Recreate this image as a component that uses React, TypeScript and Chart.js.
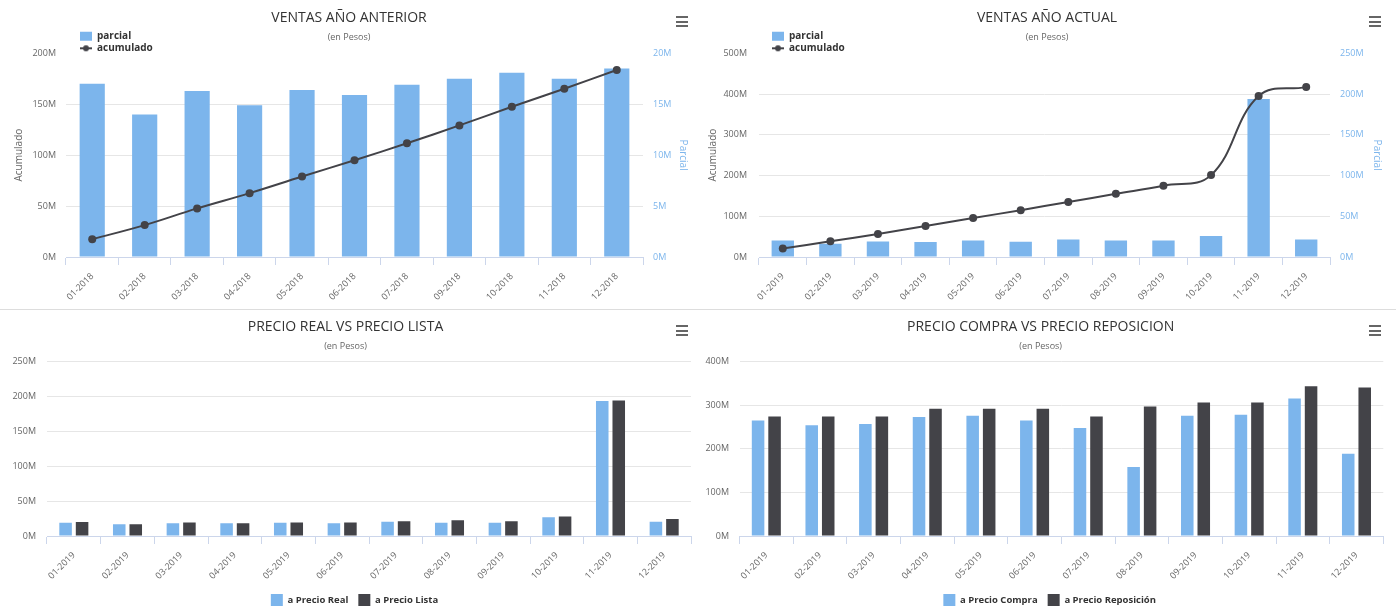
import React, { useEffect, useRef } from 'react';
import { Chart, registerables } from 'chart.js';

Chart.register(...registerables);

const FONT = '"Open Sans", "DejaVu Sans", sans-serif';
const BLUE = '#7cb5ec';
const DARK = '#434348';
const GRID = '#e6e6e6';
const AXIS = '#ccd6eb';
const TXT = '#666666';

Chart.defaults.font.family = FONT;

// ---------- data (values in millions of pesos) ----------
const mesesAnterior = ['01-2018', '02-2018', '03-2018', '04-2018', '05-2018', '06-2018', '07-2018', '09-2018', '10-2018', '11-2018', '12-2018'];
const parcialAnterior = [17.0, 14.0, 16.3, 14.9, 16.4, 15.9, 16.9, 17.5, 18.1, 17.5, 18.5];
const acumuladoAnterior = [17.5, 31.3, 47.7, 62.7, 79.0, 95.0, 111.7, 129.2, 147.5, 165.2, 183.6];
const ejeAcumAnterior = [0, 50, 100, 150, 200];
const ejeParcAnterior = [0, 5, 10, 15, 20];

const mesesActual = ['01-2019', '02-2019', '03-2019', '04-2019', '05-2019', '06-2019', '07-2019', '08-2019', '09-2019', '10-2019', '11-2019', '12-2019'];
const parcialActual = [20.3, 16.3, 19.1, 18.4, 20.3, 18.8, 21.6, 20.3, 20.3, 25.7, 194, 21.6];
const acumuladoActual = [21, 38.5, 56.5, 76, 95.5, 115, 135, 155, 175, 201, 395, 417];
const ejeAcumActual = [0, 100, 200, 300, 400, 500];
const ejeParcActual = [0, 50, 100, 150, 200, 250];

const precioReal = [19, 16.7, 18.1, 18.1, 19, 18.1, 20.5, 19, 19, 26.7, 193.3, 20.5];
const precioLista = [20, 16.7, 19.5, 18.1, 19.5, 19.5, 21, 22.4, 21, 28.1, 194.3, 24.3];
const ejeRealLista = [0, 50, 100, 150, 200, 250];

const precioCompra = [265, 254, 257, 272.5, 275.7, 265, 247.3, 158, 275.7, 278, 315.3, 188.7];
const precioReposicion = [274, 274, 274, 291.7, 291.7, 291.7, 274, 297, 306, 306, 343.5, 340.5];
const ejeCompraRepo = [0, 100, 200, 300, 400];

// ---------- helpers ----------
const fmtM = (v: any) => `${v}M`;

function lineIcon() {
  const c = document.createElement('canvas');
  c.width = 12;
  c.height = 10;
  const g = c.getContext('2d')!;
  g.strokeStyle = DARK;
  g.lineWidth = 2;
  g.beginPath();
  g.moveTo(0, 5);
  g.lineTo(12, 5);
  g.stroke();
  g.fillStyle = DARK;
  g.beginPath();
  g.arc(6, 5, 3, 0, Math.PI * 2);
  g.fill();
  return c;
}

// place the chart.js legend box at an absolute spot
const legendAt = (x: number, y: number) => ({
  id: 'legendAt',
  afterLayout(chart: any) {
    const lg = chart.legend;
    if (!lg) return;
    const w = lg.width;
    const h = lg.height;
    lg.left = x;
    lg.top = y;
    lg.right = x + w;
    lg.bottom = y + h;
  },
});

// shift the chart.js legend box horizontally
const legendShift = (dx: number) => ({
  id: 'legendShift',
  afterLayout(chart: any) {
    const lg = chart.legend;
    if (!lg) return;
    lg.left += dx;
    lg.right += dx;
  },
});

function rangeOf(arr: number[]) {
  return { min: arr[0], max: arr[arr.length - 1], stepSize: arr[1] - arr[0] };
}

function xScale(height: number) {
  return {
    grid: { display: true, drawOnChartArea: false, drawTicks: true, tickLength: 8, offset: true, color: AXIS },
    border: { display: true, color: AXIS },
    ticks: { autoSkip: false, minRotation: 45, maxRotation: 45, padding: 6, color: TXT, font: { size: 9 } },
    afterFit: (s: any) => { s.height = height; },
  };
}

function titles(title: string, top: number, subTop: number, subBottom: number) {
  return {
    title: { display: true, text: title, color: '#333333', font: { size: 14, weight: 'normal', lineHeight: 1.2 }, padding: { top, bottom: 4 } },
    subtitle: { display: true, text: '(en Pesos)', color: TXT, font: { size: 9 }, padding: { top: subTop, bottom: subBottom } },
  };
}

type ComboParams = {
  title: string;
  labels: string[];
  parcial: number[];
  acumulado: number[];
  ejeAcum: number[];
  ejeParc: number[];
  leftW: number;
  rightW: number;
  leftPad: number;
  rightPad: number;
  leftTitlePad: number;
  rightTitlePad: number;
  barPct: number;
  legendX: number;
  legendY: number;
};

function comboConfig(p: ComboParams): any {
  const icon = lineIcon();
  const ra = rangeOf(p.ejeAcum);
  const rp = rangeOf(p.ejeParc);
  return {
    type: 'bar',
    data: {
      labels: p.labels,
      datasets: [
        { type: 'bar', label: 'parcial', data: p.parcial, yAxisID: 'y1', backgroundColor: BLUE, borderWidth: 0, categoryPercentage: 1, barPercentage: p.barPct, order: 2 },
        { type: 'line', label: 'acumulado', data: p.acumulado, yAxisID: 'y', borderColor: DARK, backgroundColor: DARK, borderWidth: 2, pointRadius: 4, pointBackgroundColor: DARK, pointBorderWidth: 0, tension: 0.4, order: 1 },
      ],
    },
    options: {
      responsive: false,
      maintainAspectRatio: false,
      animation: false,
      events: [],
      layout: { padding: 0 },
      plugins: {
        ...titles(p.title, 9.2, 2.5, 10),
        tooltip: { enabled: false },
        legend: {
          display: true,
          position: 'chartArea',
          align: 'start',
          labels: {
            usePointStyle: true,
            pointStyleWidth: 12,
            boxHeight: 9,
            padding: 2,
            font: { size: 10, weight: 'bold' },
            color: '#333333',
            generateLabels: (chart: any) =>
              chart.data.datasets.map((ds: any, i: number) => ({
                text: ds.label,
                fillStyle: ds.type === 'line' ? DARK : BLUE,
                strokeStyle: 'rgba(0,0,0,0)',
                lineWidth: 0,
                pointStyle: ds.type === 'line' ? icon : 'rect',
                fontColor: '#333333',
                hidden: false,
                datasetIndex: i,
              })),
          },
        },
      },
      scales: {
        x: xScale(48),
        y: {
          position: 'left',
          min: ra.min,
          max: ra.max,
          ticks: { stepSize: ra.stepSize, callback: fmtM, color: TXT, font: { size: 9 }, padding: p.leftPad },
          grid: { drawTicks: false, color: (c: any) => (c.tick && c.tick.value === ra.max ? 'rgba(0,0,0,0)' : GRID) },
          border: { display: false },
          title: { display: true, text: 'Acumulado', color: TXT, font: { size: 10 }, padding: { top: p.leftTitlePad, bottom: 0 } },
          afterFit: (s: any) => { s.width = p.leftW; },
        },
        y1: {
          position: 'right',
          min: rp.min,
          max: rp.max,
          ticks: { stepSize: rp.stepSize, callback: fmtM, color: BLUE, font: { size: 9 }, padding: p.rightPad },
          grid: { drawOnChartArea: false, drawTicks: false },
          border: { display: false },
          title: { display: true, text: 'Parcial', color: BLUE, font: { size: 10 }, padding: { top: p.rightTitlePad, bottom: 0 } },
          afterFit: (s: any) => { s.width = p.rightW; },
        },
      },
    },
    plugins: [legendAt(p.legendX, p.legendY)],
  };
}

type GroupParams = {
  title: string;
  labels: string[];
  names: [string, string];
  a: number[];
  b: number[];
  eje: number[];
  leftW: number;
  leftPad: number;
  rightPad: number;
  legendDx: number;
};

function groupConfig(p: GroupParams): any {
  const r = rangeOf(p.eje);
  return {
    type: 'bar',
    data: {
      labels: p.labels,
      datasets: [
        { label: p.names[0], data: p.a, backgroundColor: BLUE, borderWidth: 0, categoryPercentage: 0.615, barPercentage: 0.76 },
        { label: p.names[1], data: p.b, backgroundColor: DARK, borderWidth: 0, categoryPercentage: 0.615, barPercentage: 0.76 },
      ],
    },
    options: {
      responsive: false,
      maintainAspectRatio: false,
      animation: false,
      events: [],
      layout: { padding: { left: 0, right: p.rightPad, top: 0, bottom: 0 } },
      plugins: {
        ...titles(p.title, 7.3, 2, 9.6),
        tooltip: { enabled: false },
        legend: {
          display: true,
          position: 'bottom',
          align: 'center',
          maxHeight: 25,
          labels: { boxWidth: 12, boxHeight: 12, padding: 10, color: '#333333', font: { size: 9.5, weight: 'bold' } },
        },
      },
      scales: {
        x: xScale(48),
        y: {
          position: 'left',
          min: r.min,
          max: r.max,
          ticks: { stepSize: r.stepSize, callback: fmtM, color: TXT, font: { size: 9 }, padding: p.leftPad },
          grid: { drawTicks: false, color: GRID },
          border: { display: false },
          afterFit: (s: any) => { s.width = p.leftW; },
        },
      },
    },
    plugins: [legendShift(p.legendDx)],
  };
}

// ---------- components ----------
function ChartBox({ left, top, width, height, build }: { left: number; top: number; width: number; height: number; build: () => any }) {
  const ref = useRef<HTMLCanvasElement>(null);
  useEffect(() => {
    const chart = new Chart(ref.current as HTMLCanvasElement, build());
    return () => chart.destroy();
  }, []);
  return (
    <div style={{ position: 'absolute', left, top, width, height }}>
      <canvas ref={ref} width={width} height={height} style={{ width, height, display: 'block' }} />
    </div>
  );
}

function Menu({ left, top }: { left: number; top: number }) {
  return (
    <div style={{ position: 'absolute', left, top, width: 12 }}>
      {[0, 1, 2].map((i) => (
        <div key={i} style={{ height: 2, background: '#666666', marginBottom: i < 2 ? 2.5 : 0 }} />
      ))}
    </div>
  );
}

export default function App() {
  return (
    <div style={{ position: 'fixed', left: 0, top: 0, width: 1396, height: 609, overflow: 'hidden', background: '#ffffff' }}>
      <ChartBox
        left={0}
        top={0}
        width={698}
        height={305}
        build={() =>
          comboConfig({
            title: 'VENTAS AÑO ANTERIOR',
            labels: mesesAnterior,
            parcial: parcialAnterior,
            acumulado: acumuladoAnterior,
            ejeAcum: ejeAcumAnterior,
            ejeParc: ejeParcAnterior,
            leftW: 66,
            rightW: 55,
            leftPad: 10,
            rightPad: 10,
            leftTitlePad: 13,
            rightTitlePad: 9,
            barPct: 0.48,
            legendX: 78,
            legendY: 29.3,
          })
        }
      />
      <ChartBox
        left={698}
        top={0}
        width={698}
        height={305}
        build={() =>
          comboConfig({
            title: 'VENTAS AÑO ACTUAL',
            labels: mesesActual,
            parcial: parcialActual,
            acumulado: acumuladoActual,
            ejeAcum: ejeAcumActual,
            ejeParc: ejeParcActual,
            leftW: 61,
            rightW: 66,
            leftPad: 12,
            rightPad: 10,
            leftTitlePad: 9.6,
            rightTitlePad: 13,
            barPct: 0.47,
            legendX: 72,
            legendY: 29.3,
          })
        }
      />
      <div style={{ position: 'absolute', left: 0, top: 309, width: 1396, height: 1, background: '#dddddd' }} />
      <ChartBox
        left={0}
        top={311}
        width={698}
        height={298}
        build={() =>
          groupConfig({
            title: 'PRECIO REAL VS PRECIO LISTA',
            labels: mesesActual,
            names: ['a Precio Real', 'a Precio Lista'],
            a: precioReal,
            b: precioLista,
            eje: ejeRealLista,
            leftW: 47,
            leftPad: 11,
            rightPad: 7,
            legendDx: 9,
          })
        }
      />
      <ChartBox
        left={698}
        top={311}
        width={698}
        height={298}
        build={() =>
          groupConfig({
            title: 'PRECIO COMPRA VS PRECIO REPOSICION',
            labels: mesesActual,
            names: ['a Precio Compra', 'a Precio Reposición'],
            a: precioCompra,
            b: precioReposicion,
            eje: ejeCompraRepo,
            leftW: 41.5,
            leftPad: 10.5,
            rightPad: 12.7,
            legendDx: 9,
          })
        }
      />
      <Menu left={676} top={16} />
      <Menu left={1369} top={16} />
      <Menu left={676} top={325} />
      <Menu left={1369} top={325} />
    </div>
  );
}
